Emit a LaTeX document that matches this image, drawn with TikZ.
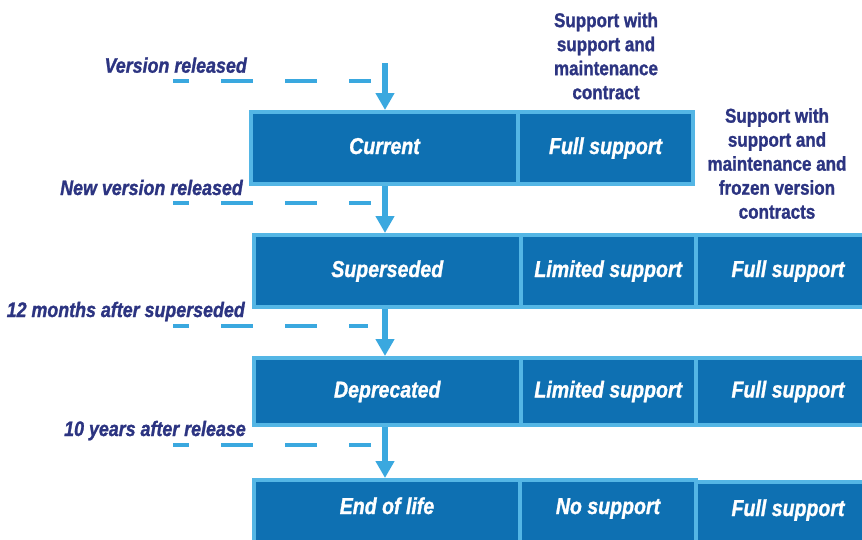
\documentclass[tikz,border=0pt]{standalone}
\usepackage{fontspec}
\setmainfont{Liberation Sans}[FakeStretch=0.85, BoldFeatures={FakeBold=1.2}, BoldItalicFeatures={FakeBold=1.2}]
\usetikzlibrary{arrows.meta}
\definecolor{cellfill}{RGB}{14,112,178}
\definecolor{cellline}{RGB}{84,182,229}
\definecolor{flow}{RGB}{58,168,223}
\definecolor{navy}{RGB}{44,52,129}
\begin{document}
\begin{tikzpicture}[x=1pt,y=-1pt,
  cell/.style={draw=cellline, fill=cellfill, line width=4pt, inner sep=0pt,
    text=white, font=\fontsize{23}{27}\selectfont\bfseries\itshape,
    text height=17pt, text depth=5pt},
  endrow/.style={minimum height=100pt, text depth=49pt},
  evtext/.style={text=navy, font=\fontsize{21}{25}\selectfont\bfseries\itshape,
    anchor=base east, inner sep=0pt},
  headtext/.style={text=navy, font=\fontsize{20}{24}\selectfont\bfseries,
    align=center, inner sep=0pt},
  flowarrow/.style={draw=flow, line width=6pt, -{Triangle[width=18pt,length=17pt]}},
  dashline/.style={draw=flow, line width=4pt, dash pattern=on 32pt off 32pt, dash phase=16pt}]
\useasboundingbox (0,0) rectangle (862,539);
\clip (0,0) rectangle (862,539);

% headers
\node[headtext] (h1) at (606,56) {Support with\\support and\\maintenance\\contract};
\node[headtext] (h2) at (777,163.5) {Support with\\support and\\maintenance and\\frozen version\\contracts};

% row 1: Current
\node[cell, minimum width=267pt, minimum height=72pt] (cur) at (384.5,148) {Current};
\node[cell, minimum width=175pt, minimum height=72pt] (curfull) at (605.5,148) {Full support};

% row 2: Superseded
\node[cell, minimum width=266.5pt, minimum height=72pt] (sup) at (387.25,271) {Superseded};
\node[cell, minimum width=175.5pt, minimum height=72pt] (suplim) at (608.25,271) {Limited support};
\node[cell, minimum width=184pt, minimum height=72pt] (supfull) at (788,271) {Full support};

% row 3: Deprecated
\node[cell, minimum width=266.5pt, minimum height=67pt] (dep) at (387.25,391.5) {Deprecated};
\node[cell, minimum width=175.5pt, minimum height=67pt] (deplim) at (608.25,391.5) {Limited support};
\node[cell, minimum width=184pt, minimum height=67pt] (depfull) at (788,391.5) {Full support};

% row 4: End of life
\node[cell, endrow, minimum width=266pt] (eol) at (387,530) {End of life};
\node[cell, endrow, minimum width=176pt] (eolno) at (608,530) {No support};
\node[cell, endrow, minimum width=184pt] (eolfull) at (788,532) {Full support};

% event labels
\node[evtext] (ev1) at (247,72.7) {Version released};
\node[evtext] (ev2) at (243,195) {New version released};
\node[evtext] (ev3) at (245,317) {12 months after superseded};
\node[evtext] (ev4) at (246,436) {10 years after release};

% dashed lines
\coordinate (d1s) at (173,81);  \coordinate (d1e) at (371,81);
\coordinate (d2s) at (173,203); \coordinate (d2e) at (371,203);
\coordinate (d3s) at (173,326); \coordinate (d3e) at (368,326);
\coordinate (d4s) at (173,444.5); \coordinate (d4e) at (371,444.5);
\draw[dashline] (d1s) -- (d1e);
\draw[dashline] (d2s) -- (d2e);
\draw[dashline] (d3s) -- (d3e);
\draw[dashline] (d4s) -- (d4e);

% arrows
\coordinate (a0) at (385,63);
\draw[flowarrow] (a0) -- (a0 |- cur.north);
\draw[flowarrow] (a0 |- cur.south) -- (a0 |- sup.north);
\draw[flowarrow] (a0 |- sup.south) -- (a0 |- dep.north);
\draw[flowarrow] (a0 |- dep.south) -- (a0 |- eol.north);
\end{tikzpicture}
\end{document}
